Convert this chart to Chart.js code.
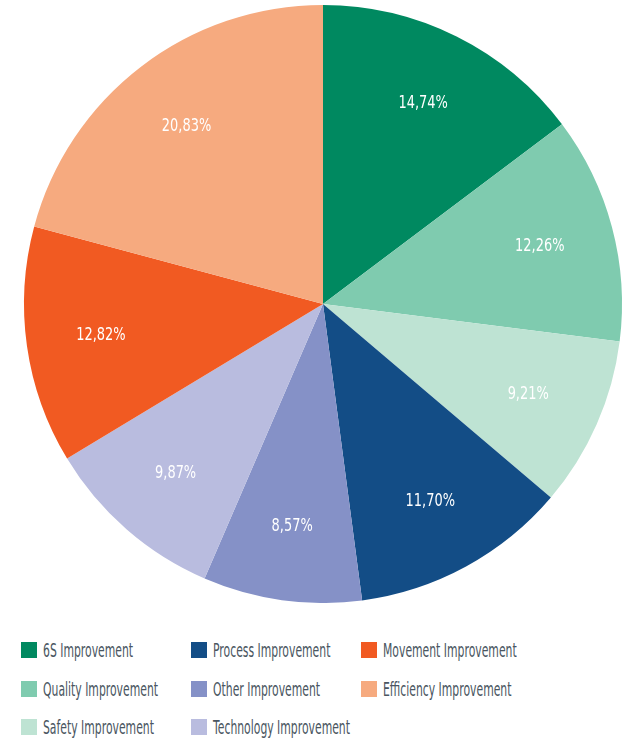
<!DOCTYPE html>
<html>
<head>
<meta charset="utf-8">
<script src="https://cdn.jsdelivr.net/npm/chart.js@4/dist/chart.umd.min.js"></script>
<style>
  body { margin: 0; background: #fff; width: 632px; height: 739px; overflow: hidden; }
  #wrap { position: absolute; left: 0; top: 5px; width: 632px; height: 598px; }
  #legend {
    position: absolute; left: 21px; top: 630px;
    display: grid; grid-auto-flow: column;
    grid-template-rows: 39px 39px 38px;
    grid-template-columns: 170px 170px 270px;
    font-family: "DejaVu Sans", sans-serif;
    font-size: 19px; color: #4a5661;
  }
  .item { display: flex; align-items: center; white-space: nowrap; }
  .box { width: 16px; height: 16px; margin-right: 6px; flex: none; }
  .txt { display: inline-block; transform: scaleX(0.57); transform-origin: left center; }
</style>
</head>
<body>
<div id="wrap"><canvas id="pieChart"></canvas></div>
<div id="legend"></div>
<script>
// slices in clockwise order from the top
const categories = ["6S Improvement", "Quality Improvement", "Safety Improvement", "Process Improvement",
  "Other Improvement", "Technology Improvement", "Movement Improvement", "Efficiency Improvement"];
const shares = [14.74, 12.26, 9.21, 11.70, 8.57, 9.87, 12.82, 20.83];
const colors = ["#008960", "#7fcbaf", "#bee3d3", "#134d86", "#8591c7", "#b9bcdf", "#f15a22", "#f6aa7f"];

// percentage labels inside the slices (squeezed to look like a condensed face)
const sliceLabels = {
  id: "sliceLabels",
  afterDatasetsDraw(chart) {
    const { ctx } = chart;
    const meta = chart.getDatasetMeta(0);
    meta.data.forEach((arc, i) => {
      const mid = (arc.startAngle + arc.endAngle) / 2;
      const r = arc.outerRadius * 0.75;
      ctx.save();
      ctx.translate(arc.x + Math.cos(mid) * r, arc.y + Math.sin(mid) * r);
      ctx.scale(0.72, 1);
      ctx.fillStyle = "#fff";
      ctx.font = "18px 'DejaVu Sans', sans-serif";
      ctx.textAlign = "center";
      ctx.textBaseline = "middle";
      ctx.fillText(shares[i].toFixed(2).replace(".", ",") + "%", 0, 0);
      ctx.restore();
    });
  }
};

const ctx = document.getElementById("pieChart").getContext("2d");
const chart = new Chart(ctx, {
  type: 'pie',
  data: {
    labels: categories,
    datasets: [{
      data: shares,
      backgroundColor: colors,
      borderWidth: 0
    }]
  },
  options: {
    responsive: true,
    maintainAspectRatio: false,
    animation: false,
    layout: { padding: { left: 14 } },
    plugins: {
      legend: { display: false },
      tooltip: { enabled: false }
    }
  },
  plugins: [sliceLabels]
});

// legend laid out column by column
const legend = document.getElementById("legend");
categories.forEach((name, i) => {
  const item = document.createElement("div");
  item.className = "item";
  item.innerHTML = '<span class="box" style="background:' + colors[i] + '"></span><span class="txt">' + name + '</span>';
  legend.appendChild(item);
});
</script>
</body>
</html>
